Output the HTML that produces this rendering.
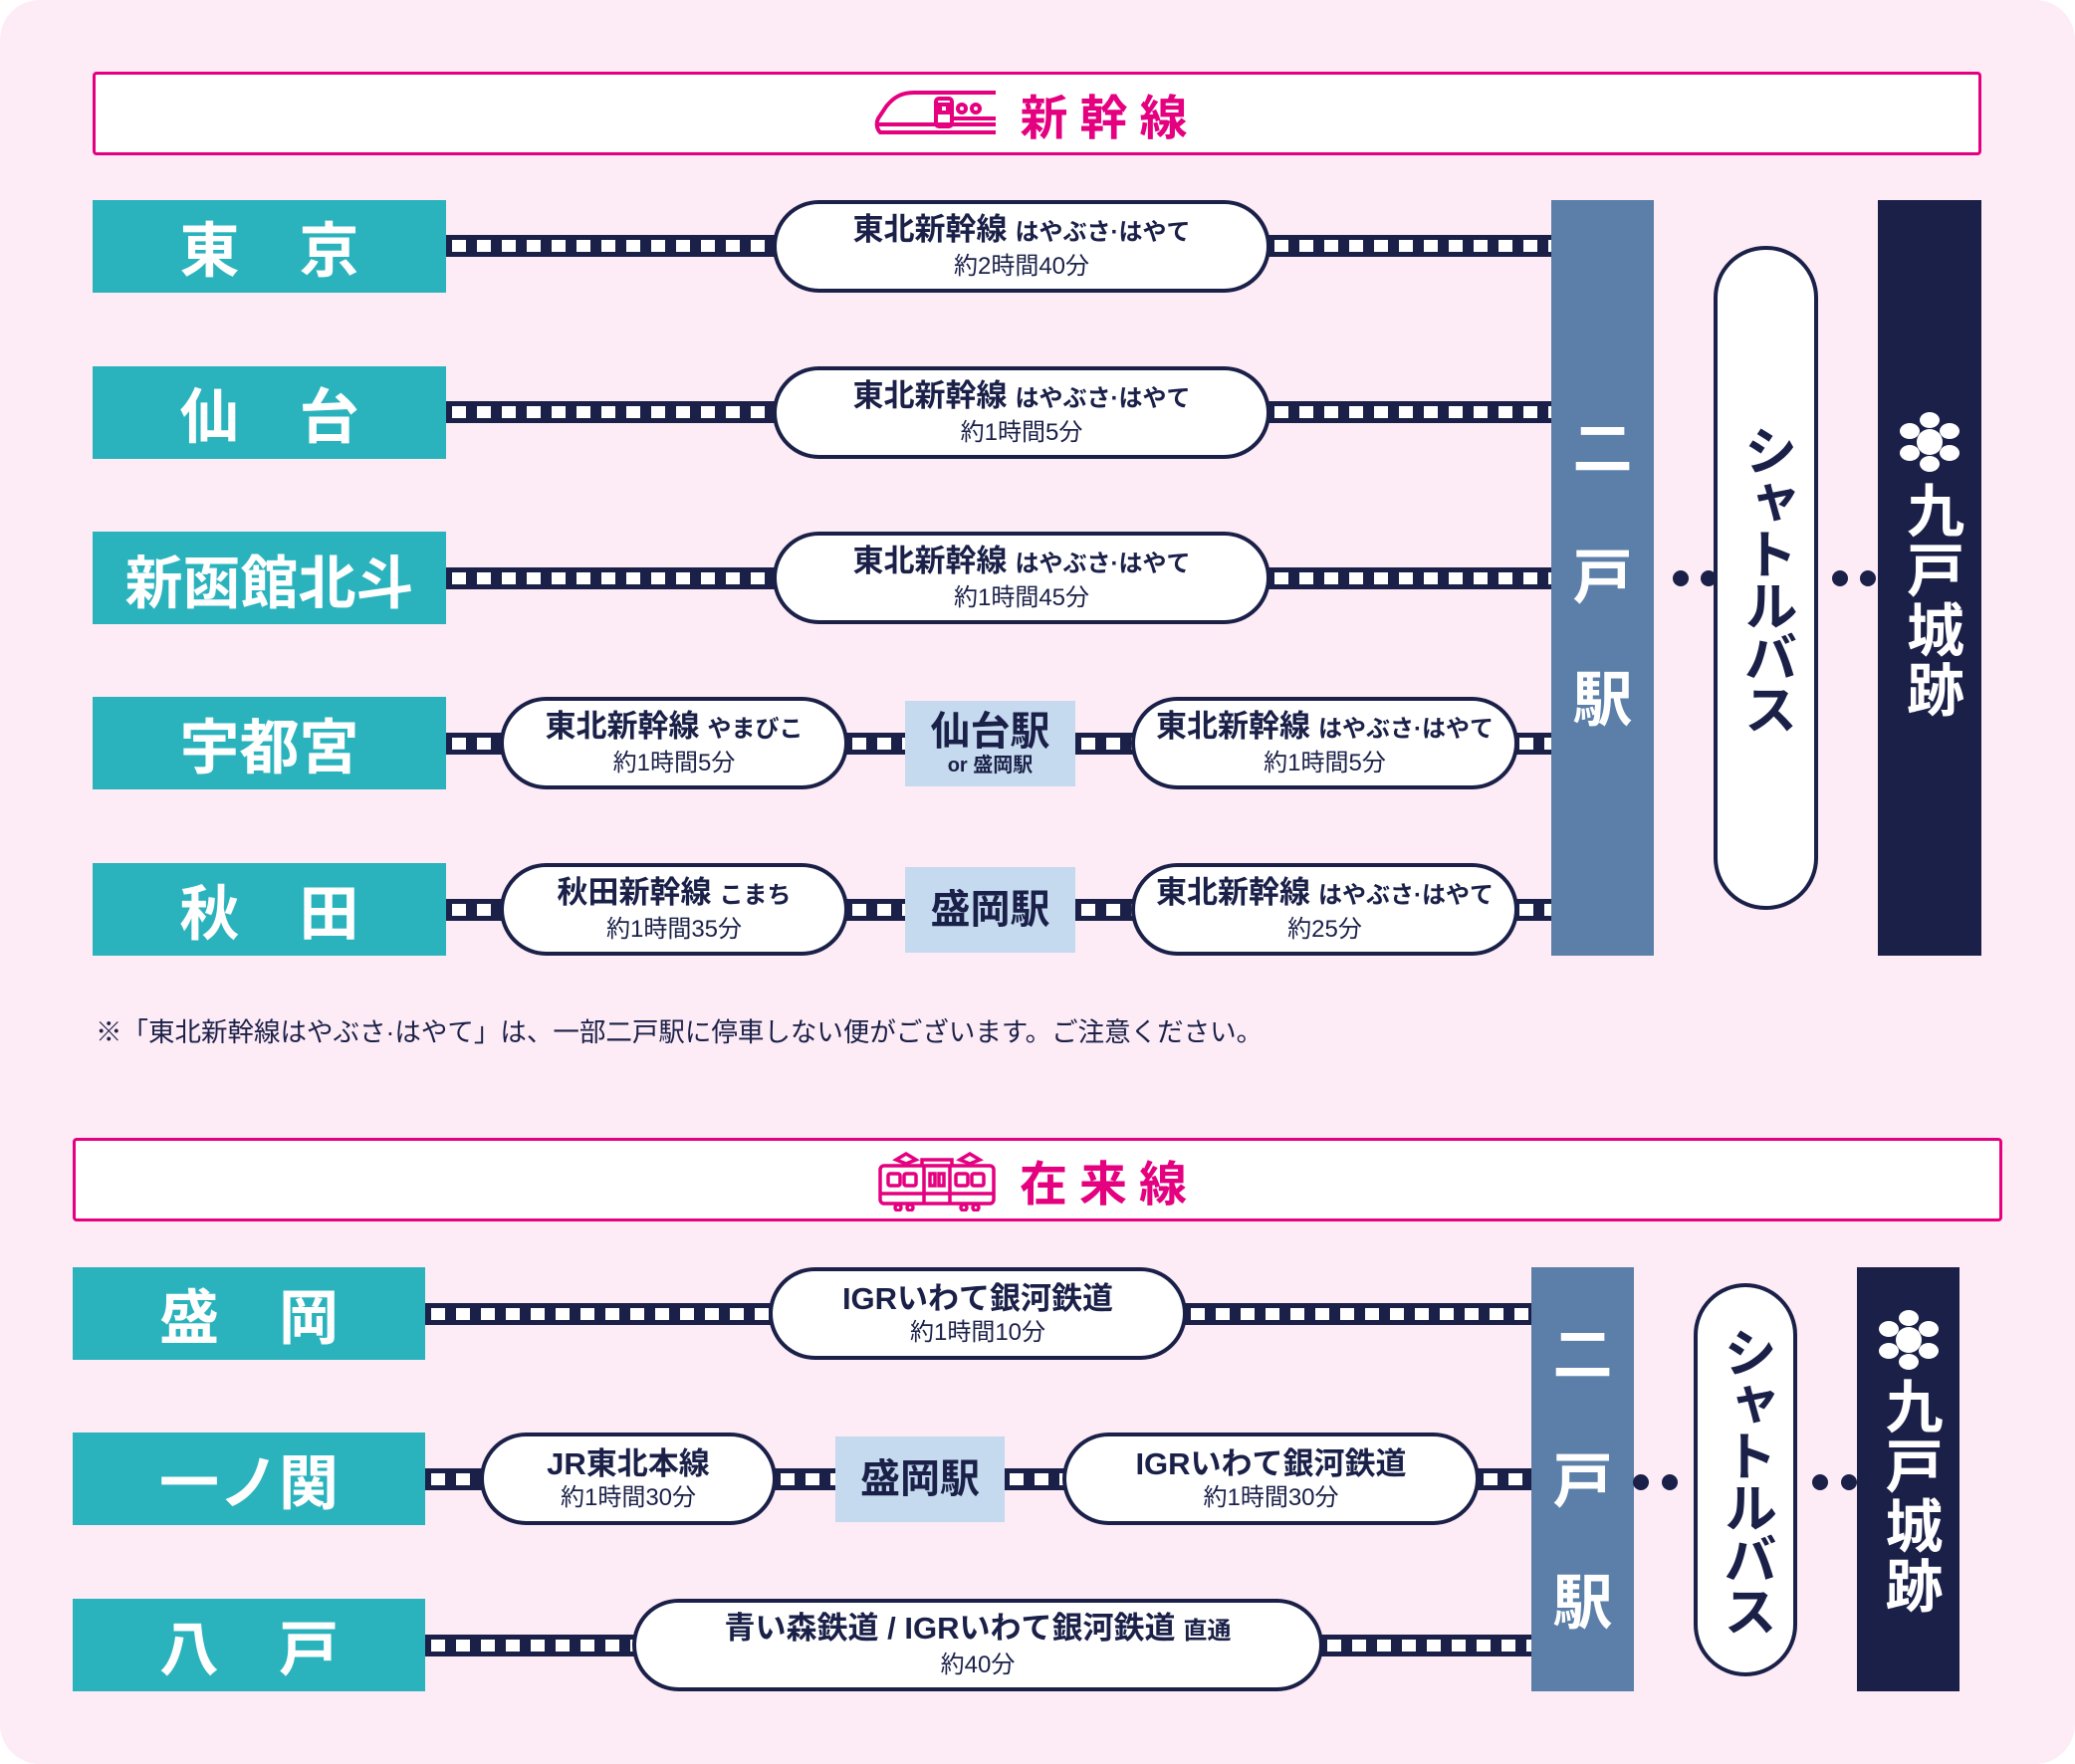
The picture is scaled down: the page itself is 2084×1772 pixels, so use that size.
<!DOCTYPE html>
<html><head><meta charset="utf-8"><style>
*{margin:0;padding:0;box-sizing:border-box}
body{width:2084px;height:1772px;background:#fff;position:relative;overflow:hidden;font-family:"Liberation Sans","Noto Sans CJK JP",sans-serif;color:#1a2048}
.bg{position:absolute;left:0;top:0;width:2084px;height:1772px;background:#fdebf5;border-radius:40px}
.hdr{position:absolute;background:#fff;border:3px solid #e4007f;border-radius:4px;display:flex;align-items:center;justify-content:center;color:#e4007f;font-weight:bold;font-size:48px;letter-spacing:12px}
.hdr svg{margin-right:22px}
.st{position:absolute;background:#2bb3bd;color:#fff;font-weight:bold;display:flex;align-items:center;justify-content:center;height:93px}
.trk{position:absolute;height:22px;padding:5px 0 5px 6px;background:repeating-linear-gradient(90deg,#fff 0 14px,#1a2048 14px 25px) content-box,#1a2048}
.pill{position:absolute;height:93px;background:#fff;border:4px solid #1a2048;border-radius:47px;display:flex;flex-direction:column;align-items:center;justify-content:center;text-align:center}
.l1{font-weight:bold;font-size:31px;line-height:37px;white-space:nowrap}
.l1 small{font-size:24px;margin-left:8px}
.l2{font-size:24px;line-height:31px;white-space:nowrap}
.mid{position:absolute;height:86px;background:#c5daee;display:flex;flex-direction:column;align-items:center;justify-content:center;font-weight:bold;font-size:40px;line-height:44px}
.mid span{font-size:20px;line-height:24px;font-weight:bold}
.nino{position:absolute;background:#5b7fa8;color:#fff;font-weight:bold;font-size:60px}
.nino div{position:absolute;left:0;right:0;text-align:center;line-height:60px}
.bus{position:absolute;background:#fff;border:4px solid #1a2048;border-radius:52px;display:flex;align-items:center;justify-content:center}
.bus div{writing-mode:vertical-rl;text-orientation:upright;font-weight:bold;font-size:54px;letter-spacing:-2px}
.kun{position:absolute;background:#1a2048;color:#fff;display:flex;flex-direction:column;align-items:center}
.kun div{writing-mode:vertical-rl;text-orientation:upright;font-weight:bold;font-size:58px;letter-spacing:2px;line-height:60px}
.dot{position:absolute;width:16px;height:16px;border-radius:50%;background:#1a2048}
.note{position:absolute;left:96px;top:1015px;font-size:26.5px;white-space:nowrap}
</style></head><body>
<div class="bg"></div>

<div class="hdr" style="left:93px;top:72px;width:1897px;height:84px">
<svg width="124" height="50" viewBox="0 0 124 50" fill="none" stroke="#e4007f" stroke-width="4"><path d="M122 4H40C28 4 20 8 12 18L4 30C2 34 2 40 6 44H122"/><path d="M4 36H122"/><rect x="62" y="10" width="16" height="28" rx="3"/><rect x="66" y="16" width="8" height="8"/><circle cx="88" cy="20" r="4"/><circle cx="102" cy="20" r="4"/><path d="M80 30H122"/></svg>
<span>新幹線</span></div>

<div class="st" style="left:93px;top:201px;width:355px;font-size:60px;letter-spacing:60px;padding-left:60px">東京</div>
<div class="st" style="left:93px;top:368px;width:355px;font-size:60px;letter-spacing:60px;padding-left:60px">仙台</div>
<div class="st" style="left:93px;top:534px;width:355px;font-size:58px">新函館北斗</div>
<div class="st" style="left:93px;top:700px;width:355px;font-size:60px">宇都宮</div>
<div class="st" style="left:93px;top:867px;width:355px;font-size:60px;letter-spacing:60px;padding-left:60px">秋田</div>

<div class="trk" style="left:448px;top:236px;width:330px"></div>
<div class="trk" style="left:1274px;top:236px;width:284px"></div>
<div class="trk" style="left:448px;top:403px;width:330px"></div>
<div class="trk" style="left:1274px;top:403px;width:284px"></div>
<div class="trk" style="left:448px;top:570px;width:330px"></div>
<div class="trk" style="left:1274px;top:570px;width:284px"></div>
<div class="trk" style="left:448px;top:736px;width:56px"></div>
<div class="trk" style="left:850px;top:736px;width:60px"></div>
<div class="trk" style="left:1080px;top:736px;width:60px"></div>
<div class="trk" style="left:1520px;top:736px;width:38px"></div>
<div class="trk" style="left:448px;top:903px;width:56px"></div>
<div class="trk" style="left:850px;top:903px;width:60px"></div>
<div class="trk" style="left:1080px;top:903px;width:60px"></div>
<div class="trk" style="left:1520px;top:903px;width:38px"></div>

<div class="pill" style="left:776px;top:201px;width:500px"><div class="l1">東北新幹線<small>はやぶさ·はやて</small></div><div class="l2">約2時間40分</div></div>
<div class="pill" style="left:776px;top:368px;width:500px"><div class="l1">東北新幹線<small>はやぶさ·はやて</small></div><div class="l2">約1時間5分</div></div>
<div class="pill" style="left:776px;top:534px;width:500px"><div class="l1">東北新幹線<small>はやぶさ·はやて</small></div><div class="l2">約1時間45分</div></div>
<div class="pill" style="left:502px;top:700px;width:350px"><div class="l1">東北新幹線<small>やまびこ</small></div><div class="l2">約1時間5分</div></div>
<div class="mid" style="left:909px;top:704px;width:171px">仙台駅<span>or 盛岡駅</span></div>
<div class="pill" style="left:1136px;top:700px;width:389px"><div class="l1">東北新幹線<small>はやぶさ·はやて</small></div><div class="l2">約1時間5分</div></div>
<div class="pill" style="left:502px;top:867px;width:350px"><div class="l1">秋田新幹線<small>こまち</small></div><div class="l2">約1時間35分</div></div>
<div class="mid" style="left:909px;top:871px;width:171px">盛岡駅</div>
<div class="pill" style="left:1136px;top:867px;width:389px"><div class="l1">東北新幹線<small>はやぶさ·はやて</small></div><div class="l2">約25分</div></div>

<div class="nino" style="left:1558px;top:201px;width:103px;height:759px"><div style="top:221px">二</div><div style="top:350px">戸</div><div style="top:473px">駅</div></div>
<div class="dot" style="left:1680px;top:573px"></div><div class="dot" style="left:1708px;top:573px"></div>
<div class="bus" style="left:1721px;top:247px;width:105px;height:667px"><div>シャトルバス</div></div>
<div class="dot" style="left:1840px;top:573px"></div><div class="dot" style="left:1868px;top:573px"></div>
<div class="kun" style="left:1886px;top:201px;width:104px;height:759px;padding-top:212px">
<svg width="62" height="62" viewBox="0 0 62 62" fill="#fff"><circle cx="31" cy="31" r="13"/><ellipse cx="31" cy="9" rx="10" ry="8"/><ellipse cx="31" cy="53" rx="10" ry="8"/><ellipse cx="11" cy="20" rx="10" ry="8"/><ellipse cx="51" cy="20" rx="10" ry="8"/><ellipse cx="11" cy="42" rx="10" ry="8"/><ellipse cx="51" cy="42" rx="10" ry="8"/></svg>
<div style="margin-top:8px">九戸城跡</div></div>

<div class="note">※「東北新幹線はやぶさ·はやて」は、一部二戸駅に停車しない便がございます。ご注意ください。</div>

<div class="hdr" style="left:73px;top:1143px;width:1938px;height:84px">
<svg width="122" height="64" viewBox="0 0 122 64" fill="none" stroke="#e4007f" stroke-width="3.5"><path d="M20 12L30 6L40 12L30 16Z M84 12L94 6L104 12L94 16Z"/><rect x="4" y="18" width="114" height="38" rx="4"/><path d="M46 18V12H76V18"/><rect x="12" y="26" width="12" height="12" rx="2"/><rect x="28" y="26" width="12" height="12" rx="2"/><rect x="80" y="26" width="12" height="12" rx="2"/><rect x="96" y="26" width="12" height="12" rx="2"/><path d="M48 18V56M74 18V56"/><rect x="54" y="26" width="5" height="12"/><rect x="63" y="26" width="5" height="12"/><path d="M4 46H118"/><circle cx="22" cy="60" r="3"/><circle cx="34" cy="60" r="3"/><circle cx="88" cy="60" r="3"/><circle cx="100" cy="60" r="3"/></svg>
<span>在来線</span></div>

<div class="st" style="left:73px;top:1273px;width:354px;font-size:60px;letter-spacing:60px;padding-left:60px">盛岡</div>
<div class="st" style="left:73px;top:1439px;width:354px;font-size:60px">一ノ関</div>
<div class="st" style="left:73px;top:1606px;width:354px;font-size:60px;letter-spacing:60px;padding-left:60px">八戸</div>

<div class="trk" style="left:427px;top:1309px;width:347px"></div>
<div class="trk" style="left:1190px;top:1309px;width:348px"></div>
<div class="trk" style="left:427px;top:1475px;width:57px"></div>
<div class="trk" style="left:778px;top:1475px;width:62px"></div>
<div class="trk" style="left:1008px;top:1475px;width:62px"></div>
<div class="trk" style="left:1484px;top:1475px;width:54px"></div>
<div class="trk" style="left:427px;top:1642px;width:210px"></div>
<div class="trk" style="left:1327px;top:1642px;width:211px"></div>

<div class="pill" style="left:772px;top:1273px;width:420px"><div class="l1">IGRいわて銀河鉄道</div><div class="l2">約1時間10分</div></div>
<div class="pill" style="left:482px;top:1439px;width:298px"><div class="l1">JR東北本線</div><div class="l2">約1時間30分</div></div>
<div class="mid" style="left:839px;top:1443px;width:170px">盛岡駅</div>
<div class="pill" style="left:1067px;top:1439px;width:419px"><div class="l1">IGRいわて銀河鉄道</div><div class="l2">約1時間30分</div></div>
<div class="pill" style="left:635px;top:1606px;width:694px"><div class="l1">青い森鉄道 / IGRいわて銀河鉄道<small>直通</small></div><div class="l2">約40分</div></div>

<div class="nino" style="left:1538px;top:1273px;width:103px;height:426px"><div style="top:59px">二</div><div style="top:186px">戸</div><div style="top:308px">駅</div></div>
<div class="dot" style="left:1640px;top:1481px"></div><div class="dot" style="left:1669px;top:1481px"></div>
<div class="bus" style="left:1701px;top:1289px;width:104px;height:395px"><div>シャトルバス</div></div>
<div class="dot" style="left:1820px;top:1481px"></div><div class="dot" style="left:1849px;top:1481px"></div>
<div class="kun" style="left:1865px;top:1273px;width:103px;height:426px;padding-top:42px">
<svg width="62" height="62" viewBox="0 0 62 62" fill="#fff"><circle cx="31" cy="31" r="13"/><ellipse cx="31" cy="9" rx="10" ry="8"/><ellipse cx="31" cy="53" rx="10" ry="8"/><ellipse cx="11" cy="20" rx="10" ry="8"/><ellipse cx="51" cy="20" rx="10" ry="8"/><ellipse cx="11" cy="42" rx="10" ry="8"/><ellipse cx="51" cy="42" rx="10" ry="8"/></svg>
<div style="margin-top:6px">九戸城跡</div></div>
</body></html>
